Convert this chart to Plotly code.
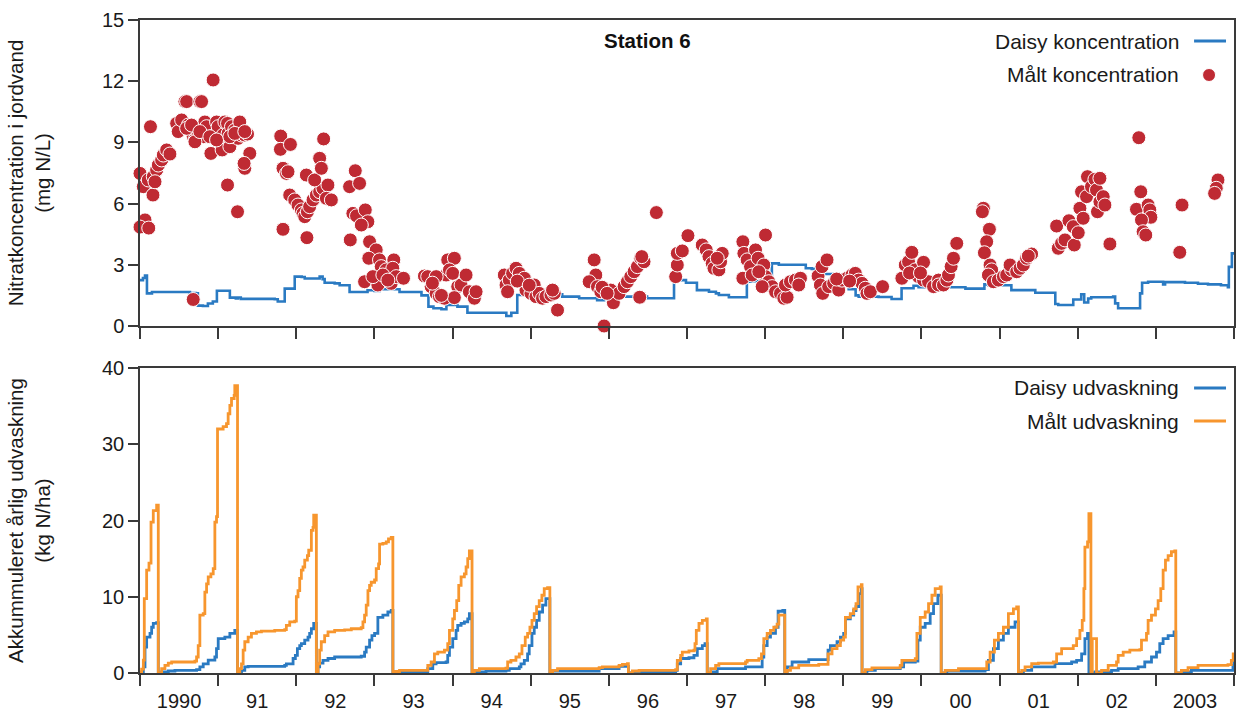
import plotly.graph_objects as go

BLUE = "#2a7ac2"
ORANGE = "#f7962e"
RED = "#bf2a33"
AXC = "#3a3a3a"
FONT = "Liberation Sans, Arial, Helvetica, sans-serif"

# ---------------- axis tick data ----------------
year_bounds = list(range(1990, 2005))
label_positions = [y + 0.5 for y in range(1990, 2004)]
year_labels = ["1990", "91", "92", "93", "94", "95", "96", "97", "98", "99", "00", "01", "02", "2003"]

# ---------------- Daisy concentration (step line) ----------------
daisy_conc_year = [
    1990.000, 1990.038, 1990.064, 1990.089, 1990.153, 1990.639, 1990.715, 1990.741, 1990.805, 1990.869,
    1990.932, 1990.984, 1991.150, 1991.226, 1991.252, 1991.290, 1991.724, 1991.763, 1991.852, 1991.980,
    1992.069, 1992.108, 1992.274, 1992.299, 1992.337, 1992.363, 1992.491, 1992.555, 1992.682, 1992.912,
    1993.002, 1993.066, 1993.321, 1993.602, 1993.691, 1993.755, 1993.857, 1993.921, 1994.062, 1994.190,
    1994.688, 1994.752, 1994.828, 1994.918, 1995.173, 1995.403, 1995.620, 1995.850, 1995.939, 1996.489,
    1996.834, 1996.987, 1997.127, 1997.281, 1997.370, 1997.408, 1997.536, 1997.766, 1997.817, 1998.086,
    1998.175, 1998.520, 1998.596, 1998.750, 1998.941, 1999.069, 1999.158, 1999.197, 1999.452, 1999.618,
    1999.746, 1999.899, 1999.963, 2000.563, 2000.806, 2000.857, 2001.151, 2001.457, 2001.713, 2001.751,
    2001.943, 2002.045, 2002.083, 2002.134, 2002.173, 2002.454, 2002.479, 2002.517, 2002.798, 2002.824,
    2002.901, 2003.093, 2003.118, 2003.373, 2003.539, 2003.667, 2003.833, 2003.922, 2003.934, 2003.973,
    2004.000,
]
daisy_conc = [
    2.25, 2.35, 2.47, 1.60, 1.67, 1.62, 1.60, 1.00, 0.98, 1.10,
    1.20, 1.73, 1.39, 1.35, 1.40, 1.33, 1.31, 1.20, 1.83, 2.42,
    2.40, 2.33, 2.33, 2.42, 2.30, 2.12, 2.09, 2.00, 1.67, 1.75,
    1.72, 1.80, 1.67, 1.50, 0.95, 0.87, 0.82, 1.03, 0.95, 0.65,
    0.49, 0.65, 1.52, 1.68, 1.55, 1.44, 1.36, 1.27, 1.44, 1.36,
    2.25, 2.12, 1.76, 1.68, 1.60, 1.52, 1.41, 2.17, 2.20, 3.07,
    3.00, 2.83, 2.80, 2.55, 2.45, 1.80, 1.50, 1.44, 1.42, 1.32,
    1.85, 1.97, 1.90, 1.83, 2.04, 2.00, 1.76, 1.63, 1.08, 1.03,
    1.30, 1.56, 1.15, 1.35, 1.41, 1.44, 1.11, 0.87, 1.60, 2.12,
    2.17, 2.04, 2.15, 2.12, 2.07, 2.04, 2.00, 1.90, 2.90, 3.56,
    3.56,
]

# ---------------- Measured concentration (points) ----------------
malt_conc_year = [
    # 1990 spring
    1990.000, 1989.994, 1990.042, 1990.134, 1990.064, 1990.000, 1990.112, 1990.166, 1990.106, 1990.170,
    1990.213, 1990.234, 1990.277, 1990.298, 1990.341, 1990.383, 1990.192,
    # 1990-91 winter
    1990.469, 1990.489, 1990.533, 1990.575, 1990.597, 1990.617, 1990.639, 1990.681, 1990.703, 1990.745,
    1990.766, 1990.788, 1990.809, 1990.830, 1990.852, 1990.916, 1990.907, 1990.936, 1990.980, 1991.000,
    1991.022, 1991.051, 1991.064, 1991.086, 1991.120, 1991.128, 1991.150, 1991.171, 1991.192, 1991.213,
    1991.256, 1991.277, 1991.299, 1991.341, 1991.376, 1991.405, 1991.341, 1991.332, 1991.120, 1991.248,
    1990.681, 1990.597, 1990.660, 1990.703, 1990.766, 1990.894, 1990.980, 1991.150, 1991.213, 1991.341,
    # 1991-92
    1991.801, 1991.797, 1991.925, 1991.830, 1991.874, 1991.894, 1991.916, 1991.980, 1992.022, 1992.065,
    1992.086, 1992.108, 1992.142, 1992.171, 1992.214, 1992.257, 1992.299, 1992.341, 1992.405, 1992.385,
    1992.449, 1992.129, 1992.235, 1992.299, 1992.321, 1992.350, 1991.830, 1992.136,
    # 1992-93
    1992.682, 1992.755, 1992.810, 1992.691, 1992.724, 1992.771, 1992.883, 1992.916, 1992.832, 1992.938,
    1993.023, 1992.928, 1993.065, 1993.087, 1992.874, 1993.044, 1993.215, 1993.151, 1993.248, 1993.235,
    1993.279, 1993.372, 1992.980, 1993.108, 1993.172,
    # 1993-94
    1993.640, 1993.682, 1993.726, 1993.790, 1993.832, 1993.896, 1993.938, 1994.023, 1993.917, 1993.960,
    1994.002, 1994.066, 1994.109, 1994.173, 1994.215, 1994.279, 1994.301, 1994.023, 1993.790, 1993.742,
    1993.857,
    # 1994-95
    1994.662, 1994.684, 1994.726, 1994.768, 1994.812, 1994.854, 1994.918, 1994.704, 1994.939, 1995.003,
    1995.045, 1995.067, 1995.109, 1995.151, 1995.195, 1995.259, 1995.301, 1995.343, 1995.279, 1994.828,
    1994.981,
    # 1995-96
    1995.812, 1995.833, 1995.748, 1995.854, 1995.897, 1995.939, 1996.025, 1996.058, 1996.131, 1996.195,
    1996.237, 1996.280, 1996.323, 1996.365, 1996.408, 1996.450, 1996.395, 1996.608, 1996.421, 1995.914,
    1995.978,
    # 1996-97
    1996.855, 1996.876, 1996.876, 1996.940, 1997.012,
    1997.195, 1997.246, 1997.281, 1997.323, 1997.345, 1997.408, 1997.430, 1997.451, 1997.387,
    # 1997-98
    1997.715, 1997.728, 1997.770, 1997.715, 1997.813, 1997.834, 1997.877, 1997.910, 1998.005, 1997.983,
    1998.005, 1998.047, 1998.089, 1998.133, 1998.196, 1998.239, 1998.281, 1998.260, 1998.324, 1998.388,
    1998.452, 1998.430, 1997.919, 1997.962,
    # 1998-99
    1998.677, 1998.728, 1998.792, 1998.707, 1998.737, 1998.813, 1998.877, 1998.941, 1998.983, 1999.047,
    1999.111, 1999.154, 1999.197, 1999.239, 1999.282, 1999.303, 1999.346, 1999.503, 1998.915, 1999.081,
    # 1999-2000
    1999.750, 1999.793, 1999.835, 1999.877, 1999.920, 1999.963, 2000.027, 2000.027, 2000.091, 2000.155,
    2000.219, 2000.219, 2000.282, 2000.325, 2000.346, 2000.380, 2000.410, 2000.452, 1999.848, 1999.988,
    # 2000-01
    2000.793, 2000.780, 2000.870, 2000.835, 2000.806, 2000.878, 2000.899, 2000.857, 2000.921, 2000.985,
    2001.049, 2001.091, 2001.155, 2001.134, 2001.219, 2001.262, 2001.304, 2001.346, 2001.410, 2001.368,
    # 2001-02
    2001.730, 2001.751, 2001.793, 2001.837, 2001.888, 2001.943, 2001.956, 2002.007, 2002.028, 2002.070,
    2002.049, 2002.113, 2002.125, 2002.176, 2002.220, 2002.240, 2002.253, 2002.284, 2002.326, 2002.348,
    2002.412, 2002.284,
    # 2002-03
    2002.782, 2002.807, 2002.752, 2002.901, 2002.923, 2002.936, 2002.816, 2002.837, 2002.871, 2003.335,
    2003.306, 2003.795, 2003.773, 2003.752,
]
malt_conc = [
    7.48, 6.34, 6.83, 9.77, 5.20, 4.85, 4.80, 6.42, 7.16, 7.32,
    7.65, 7.89, 8.14, 8.38, 8.63, 8.43, 7.07,
    9.93, 9.53, 10.10, 11.00, 11.00, 9.85, 9.60, 9.28, 9.12, 9.53,
    11.00, 11.00, 9.28, 10.00, 9.77, 9.28, 8.46, 12.06, 10.00, 9.77,
    9.12, 8.63, 9.36, 10.00, 9.93, 9.44, 8.79, 9.77, 9.28, 9.60,
    9.20, 10.00, 9.36, 9.36, 9.41, 8.46, 7.73, 7.97, 6.91, 5.60,
    1.30, 9.69, 9.85, 9.03, 9.53, 9.28, 9.12, 9.28, 9.44, 9.53,
    9.31, 8.66, 8.90, 7.73, 7.48, 7.56, 6.42, 6.18, 5.93, 5.69,
    5.52, 5.36, 5.60, 5.85, 6.18, 6.42, 6.58, 6.75, 6.91, 6.26,
    6.18, 7.40, 7.16, 8.22, 7.73, 9.17, 4.74, 4.33,
    6.83, 7.61, 6.99, 4.22, 5.52, 5.40, 5.69, 5.11, 4.95, 4.13,
    3.73, 3.32, 3.24, 2.91, 2.17, 2.01, 2.09, 2.75, 3.24, 2.83,
    2.42, 2.34, 2.42, 2.50, 2.25,
    2.45, 2.42, 1.93, 1.60, 1.44, 1.36, 3.24, 3.32, 2.50, 2.75,
    2.58, 1.93, 2.01, 2.50, 1.68, 1.36, 1.68, 1.39, 2.42, 2.10,
    1.50,
    2.50, 2.01, 2.25, 2.58, 2.83, 2.58, 2.34, 1.68, 1.76, 1.60,
    2.01, 1.44, 1.60, 1.36, 1.44, 1.52, 1.60, 0.78, 1.76, 2.20,
    2.00,
    3.24, 2.50, 2.17, 1.93, 1.68, 0.00, 1.76, 1.14, 1.60, 1.93,
    2.17, 2.42, 2.66, 2.91, 3.32, 3.15, 1.41, 5.56, 3.40, 1.90,
    1.60,
    2.42, 2.99, 3.56, 3.68, 4.43,
    3.97, 3.73, 3.40, 3.07, 2.83, 2.75, 3.15, 3.56, 3.32,
    4.13, 3.56, 3.24, 2.34, 2.91, 2.50, 3.73, 3.32, 4.46, 2.99,
    2.42, 2.17, 1.93, 1.68, 1.60, 1.36, 1.41, 2.01, 2.17, 2.25,
    2.34, 2.01, 2.66, 1.93,
    2.45, 2.91, 3.24, 2.01, 1.60, 1.93, 2.09, 1.76, 2.25, 2.34,
    2.50, 2.58, 2.25, 2.09, 1.85, 1.60, 1.68, 1.93, 2.30, 2.20,
    2.34, 2.99, 3.15, 3.61, 2.75, 2.42, 3.12, 2.25, 2.17, 1.93,
    2.25, 2.01, 2.01, 2.25, 2.50, 2.91, 3.32, 4.05, 2.60, 2.60,
    5.77, 5.60, 4.74, 4.13, 3.59, 2.99, 2.75, 2.50, 2.17, 2.25,
    2.42, 2.50, 2.75, 2.99, 2.66, 2.83, 2.99, 3.32, 3.53, 3.43,
    4.90, 3.81, 4.05, 4.22, 5.16, 4.87, 3.97, 4.57, 5.77, 5.28,
    6.58, 6.34, 7.32, 6.83, 7.19, 6.67, 5.60, 6.09, 6.34, 5.93,
    4.02, 7.24,
    9.23, 6.58, 5.72, 5.93, 5.69, 5.33, 5.20, 4.62, 4.46, 5.93,
    3.61, 7.16, 6.75, 6.50,
]

# ---------------- Accumulated annual leaching (step lines) ----------------
daisy_udv_year = [
    1990.000, 1990.043, 1990.064, 1990.085, 1990.128, 1990.149, 1990.170, 1990.213, 1990.234, 1990.277,
    1990.362, 1990.447, 1990.724, 1990.766, 1990.809, 1990.873, 1990.958, 1990.979, 1991.001, 1991.086,
    1991.150, 1991.213, 1991.248, 1991.299, 1991.341, 1991.384, 1991.852, 1991.873, 1991.959, 1991.988,
    1992.014, 1992.044, 1992.065, 1992.108, 1992.150, 1992.171, 1992.193, 1992.223, 1992.257, 1992.278,
    1992.299, 1992.342, 1992.406, 1992.491, 1992.831, 1992.874, 1992.895, 1992.938, 1992.968, 1993.002,
    1993.044, 1993.108, 1993.172, 1993.215, 1993.236, 1993.321, 1993.683, 1993.747, 1993.789, 1993.917,
    1993.938, 1993.960, 1994.002, 1994.045, 1994.066, 1994.109, 1994.151, 1994.194, 1994.215, 1994.249,
    1994.300, 1994.428, 1994.683, 1994.726, 1994.854, 1994.875, 1994.918, 1994.960, 1994.981, 1995.016,
    1995.045, 1995.075, 1995.109, 1995.152, 1995.194, 1995.245, 1995.280, 1995.876, 1996.131, 1996.250,
    1996.301, 1996.855, 1996.876, 1996.919, 1997.025, 1997.089, 1997.132, 1997.196, 1997.230, 1997.259,
    1997.323, 1997.387, 1997.749, 1997.962, 1997.983, 1998.026, 1998.068, 1998.132, 1998.166, 1998.226,
    1998.251, 1998.281, 1998.345, 1998.558, 1998.805, 1998.835, 1998.920, 1998.963, 1999.005, 1999.027,
    1999.090, 1999.133, 1999.163, 1999.197, 1999.231, 1999.240, 1999.303, 1999.410, 1999.729, 1999.772,
    1999.921, 1999.955, 1999.985, 2000.048, 2000.112, 2000.155, 2000.210, 2000.253, 2000.325, 2000.815,
    2000.857, 2000.921, 2000.985, 2001.049, 2001.113, 2001.198, 2001.241, 2001.305, 2001.411, 2001.709,
    2001.922, 2001.986, 2002.050, 2002.092, 2002.126, 2002.143, 2002.220, 2002.433, 2002.518, 2002.773,
    2002.858, 2002.944, 2003.008, 2003.050, 2003.093, 2003.157, 2003.233, 2003.255, 2003.327, 2003.455,
    2003.966, 2003.987, 2004.000,
]
daisy_udv = [
    0.10, 0.80, 3.40, 4.70, 5.20, 6.00, 6.50, 6.60, 0.00, 0.13,
    0.26, 0.35, 0.44, 0.80, 1.20, 1.70, 2.10, 3.20, 4.50, 4.70,
    5.20, 5.60, 0.00, 0.35, 0.80, 0.87, 1.00, 1.20, 1.90, 2.30,
    3.20, 3.60, 3.85, 4.30, 4.70, 5.20, 5.80, 6.50, 0.00, 0.80,
    1.30, 1.66, 1.90, 2.10, 2.20, 2.75, 3.40, 4.30, 4.90, 5.20,
    7.30, 7.60, 8.00, 8.20, 0.00, 0.13, 0.57, 1.20, 1.35, 1.44,
    2.30, 3.40, 4.50, 5.60, 6.25, 6.50, 6.70, 7.10, 7.80, 0.00,
    0.13, 0.26, 0.35, 0.57, 0.80, 1.20, 1.66, 2.50, 3.60, 5.20,
    6.00, 6.90, 8.00, 8.90, 9.75, 0.00, 0.26, 0.57, 0.87, 0.00,
    0.13, 0.35, 1.20, 1.90, 2.00, 2.30, 3.20, 3.60, 3.85, 0.00,
    0.13, 0.57, 0.80, 2.10, 3.60, 4.70, 5.20, 6.00, 8.10, 8.20,
    0.00, 0.80, 1.44, 1.75, 3.00, 3.60, 4.10, 4.70, 5.20, 7.10,
    7.60, 8.20, 8.70, 10.40, 11.06, 0.00, 0.35, 0.57, 0.80, 1.44,
    1.57, 4.30, 6.00, 6.50, 7.80, 9.10, 10.20, 0.00, 0.26, 0.44,
    1.66, 3.20, 4.30, 5.20, 6.00, 6.70, 0.00, 0.35, 0.80, 1.22,
    1.44, 1.66, 2.50, 4.50, 5.20, 0.00, 0.13, 0.35, 0.57, 0.80,
    1.44, 2.10, 2.75, 3.85, 4.50, 4.90, 5.40, 0.00, 0.13, 0.35,
    0.35, 1.00, 1.66,
]

malt_udv_year = [
    1990.000, 1990.021, 1990.043, 1990.055, 1990.085, 1990.115, 1990.141, 1990.170, 1990.213, 1990.234,
    1990.277, 1990.319, 1990.362, 1990.405, 1990.703, 1990.724, 1990.745, 1990.766, 1990.809, 1990.830,
    1990.852, 1990.873, 1990.907, 1990.937, 1990.958, 1990.979, 1990.992, 1991.064, 1991.107, 1991.128,
    1991.150, 1991.171, 1991.205, 1991.213, 1991.248, 1991.277, 1991.299, 1991.320, 1991.341, 1991.384,
    1991.426, 1991.490, 1991.554, 1991.724, 1991.852, 1991.873, 1991.916, 1991.980, 1992.001, 1992.022,
    1992.044, 1992.065, 1992.086, 1992.108, 1992.142, 1992.159, 1992.193, 1992.214, 1992.223, 1992.257,
    1992.278, 1992.299, 1992.320, 1992.363, 1992.406, 1992.491, 1992.619, 1992.704, 1992.831, 1992.853,
    1992.874, 1992.895, 1992.917, 1992.938, 1992.959, 1993.002, 1993.023, 1993.053, 1993.066, 1993.108,
    1993.151, 1993.180, 1993.215, 1993.236, 1993.260, 1993.321, 1993.683, 1993.726, 1993.768, 1993.811,
    1993.896, 1993.938, 1993.960, 1994.002, 1994.024, 1994.053, 1994.079, 1994.109, 1994.151, 1994.173,
    1994.194, 1994.215, 1994.249, 1994.279, 1994.343, 1994.683, 1994.705, 1994.747, 1994.811, 1994.854,
    1994.888, 1994.930, 1994.960, 1994.990, 1995.016, 1995.045, 1995.075, 1995.109, 1995.143, 1995.173,
    1995.216, 1995.245, 1995.280, 1995.343, 1995.876, 1995.918, 1996.131, 1996.174, 1996.238, 1996.250,
    1996.301, 1996.387, 1996.855, 1996.876, 1996.919, 1996.940, 1997.025, 1997.089, 1997.102, 1997.119,
    1997.153, 1997.196, 1997.247, 1997.259, 1997.302, 1997.366, 1997.408, 1997.749, 1997.770, 1997.919,
    1997.953, 1997.983, 1998.026, 1998.068, 1998.111, 1998.153, 1998.175, 1998.251, 1998.281, 1998.324,
    1998.430, 1998.686, 1998.805, 1998.856, 1998.920, 1998.963, 1999.005, 1999.027, 1999.090, 1999.133,
    1999.163, 1999.188, 1999.231, 1999.240, 1999.282, 1999.367, 1999.729, 1999.750, 1999.921, 1999.942,
    1999.985, 2000.048, 2000.091, 2000.134, 2000.176, 2000.240, 2000.253, 2000.304, 2000.474, 2000.836,
    2000.879, 2000.934, 2000.985, 2001.049, 2001.113, 2001.177, 2001.219, 2001.241, 2001.283, 2001.326,
    2001.411, 2001.496, 2001.688, 2001.730, 2001.794, 2001.943, 2001.986, 2002.028, 2002.058, 2002.079,
    2002.092, 2002.126, 2002.143, 2002.169, 2002.186, 2002.241, 2002.305, 2002.390, 2002.497, 2002.518,
    2002.582, 2002.667, 2002.795, 2002.816, 2002.880, 2002.901, 2002.944, 2002.995, 2003.029, 2003.063,
    2003.093, 2003.123, 2003.157, 2003.199, 2003.242, 2003.255, 2003.327, 2003.412, 2003.540, 2003.923,
    2003.966, 2003.990, 2004.000,
]
malt_udv = [
    0.10, 0.50, 1.70, 9.75, 13.50, 14.40, 19.80, 21.30, 22.00, 0.00,
    0.57, 1.00, 1.30, 1.44, 1.57, 2.10, 3.60, 7.60, 7.80, 10.60,
    11.70, 12.60, 13.00, 13.70, 19.80, 20.50, 32.00, 32.30, 32.70, 34.00,
    35.10, 36.00, 36.40, 37.70, 0.00, 0.57, 1.20, 3.00, 4.10, 4.70,
    5.20, 5.40, 5.50, 5.60, 5.70, 6.25, 6.70, 6.80, 10.00, 10.80,
    12.40, 13.50, 13.90, 14.80, 15.40, 16.10, 18.70, 19.10, 20.70, 0.00,
    1.20, 3.00, 4.10, 4.90, 5.40, 5.60, 5.65, 5.80, 5.95, 6.70,
    7.60, 8.90, 10.80, 11.50, 11.90, 12.20, 13.70, 14.30, 16.90, 17.00,
    17.20, 17.60, 17.80, 0.00, 0.20, 0.35, 1.00, 1.44, 2.50, 2.75,
    3.00, 3.85, 5.60, 7.10, 8.20, 9.50, 11.50, 12.60, 13.00, 13.90,
    15.00, 16.00, 0.00, 0.35, 0.57, 0.65, 1.44, 1.66, 2.10, 2.50,
    3.60, 4.70, 5.20, 6.00, 6.90, 7.80, 8.70, 9.50, 10.20, 11.06,
    11.20, 0.00, 0.35, 0.57, 0.70, 0.80, 1.00, 1.14, 1.22, 0.00,
    0.26, 0.35, 0.44, 1.66, 2.30, 2.75, 2.90, 3.00, 3.85, 5.60,
    6.50, 6.90, 7.10, 0.00, 0.57, 1.00, 1.22, 1.44, 1.66, 1.88,
    2.50, 4.50, 5.20, 5.60, 6.00, 6.40, 7.60, 0.00, 0.35, 0.66,
    1.00, 1.14, 2.50, 3.20, 3.60, 4.30, 4.70, 7.30, 7.80, 8.40,
    9.10, 11.30, 11.60, 0.00, 0.44, 0.66, 1.00, 1.66, 1.88, 5.20,
    7.30, 8.00, 9.10, 10.20, 11.06, 11.30, 0.00, 0.35, 0.57, 1.44,
    2.75, 4.30, 5.20, 6.00, 7.80, 8.40, 8.66, 0.00, 0.35, 0.80,
    1.22, 1.30, 1.44, 2.50, 3.20, 3.60, 4.50, 5.60, 6.90, 11.06,
    16.50, 17.20, 20.90, 0.00, 4.50, 0.00, 0.35, 1.00, 1.44, 2.30,
    2.75, 3.00, 3.06, 4.30, 5.20, 6.90, 7.60, 8.40, 9.50, 11.06,
    13.50, 14.80, 15.40, 15.90, 16.00, 0.00, 0.35, 0.70, 1.00, 1.10,
    1.66, 2.50, 2.50,
]

# ---------------- figure ----------------
fig = go.Figure()
fig.add_trace(go.Scatter(x=daisy_conc_year, y=daisy_conc, mode="lines",
                         line=dict(color=BLUE, width=2.6, shape="hv"),
                         xaxis="x", yaxis="y", showlegend=False, name="Daisy koncentration"))
fig.add_trace(go.Scatter(x=malt_conc_year, y=malt_conc, mode="markers",
                         marker=dict(color=RED, size=14, line=dict(color="white", width=1)),
                         cliponaxis=False, xaxis="x", yaxis="y", showlegend=False,
                         name="Målt koncentration"))
fig.add_trace(go.Scatter(x=daisy_udv_year, y=daisy_udv, mode="lines",
                         line=dict(color=BLUE, width=2.8, shape="hv"),
                         xaxis="x2", yaxis="y2", showlegend=False, name="Daisy udvaskning"))
fig.add_trace(go.Scatter(x=malt_udv_year, y=malt_udv, mode="lines",
                         line=dict(color=ORANGE, width=2.8, shape="hv"),
                         xaxis="x2", yaxis="y2", showlegend=False, name="Målt udvaskning"))

W, H = 1239, 720
ML, MR, MT, MB = 140, 3, 20, 47
PW, PH = W - ML - MR, H - MT - MB


def px_x(px):
    return (px - ML) / PW


def px_y(py):
    return (H - MB - py) / PH


xcommon = dict(range=[1990, 2004], showgrid=False, zeroline=False, showline=True, mirror=True,
               linecolor=AXC, linewidth=1.5, ticks="", tickmode="array",
               tickvals=label_positions, ticktext=year_labels,
               tickfont=dict(size=20, color="#1a1a1a", family=FONT),
               minor=dict(tickmode="array", tickvals=year_bounds, ticks="outside",
                          ticklen=11, tickwidth=1.5, tickcolor=AXC, showgrid=False))
ycommon = dict(showgrid=False, zeroline=False, showline=True, mirror=True,
               linecolor=AXC, linewidth=1.5, ticks="outside", ticklen=10, tickwidth=1.5,
               tickcolor=AXC, tickfont=dict(size=20, color="#1a1a1a", family=FONT))

top_lo = px_y(326)
bot_hi = px_y(368)

fig.update_layout(
    width=W, height=H,
    margin=dict(l=ML, r=MR, t=MT, b=MB),
    paper_bgcolor="white", plot_bgcolor="white",
    font=dict(family=FONT, color="#1a1a1a", size=20),
    showlegend=False,
    xaxis=dict(domain=[0, 1], anchor="y", showticklabels=False, **xcommon),
    yaxis=dict(domain=[top_lo, 1], anchor="x", range=[0, 15], tickmode="array",
               tickvals=[0, 3, 6, 9, 12, 15],
               title=dict(text="Nitratkoncentration i jordvand<br>(mg N/L)",
                          font=dict(size=20.5, family=FONT), standoff=46),
               **ycommon),
    xaxis2=dict(domain=[0, 1], anchor="y2", ticklabelstandoff=9, **xcommon),
    yaxis2=dict(domain=[0, bot_hi], anchor="x2", range=[0, 40], tickmode="array",
                tickvals=[0, 10, 20, 30, 40],
                title=dict(text="Akkummuleret årlig udvaskning<br>(kg N/ha)",
                           font=dict(size=20.5, family=FONT), standoff=46),
                **ycommon),
)

# title
fig.add_annotation(text="<b>Station 6</b>", x=px_x(648), y=px_y(40), xref="paper", yref="paper",
                   showarrow=False, font=dict(size=20.5, family=FONT, color="#111"),
                   xanchor="center", yanchor="middle")

# legends (text on the left, symbol on the right)
legend_items = [
    ("Daisy koncentration", 41, "line", BLUE),
    ("Målt koncentration", 75, "marker", RED),
    ("Daisy udvaskning", 388, "line", BLUE),
    ("Målt udvaskning", 421, "line", ORANGE),
]
for text, yy, kind, col in legend_items:
    fig.add_annotation(text=text, x=px_x(1183), y=px_y(yy), xref="paper", yref="paper",
                       showarrow=False, xanchor="right", yanchor="middle",
                       font=dict(size=21, family=FONT, color="#1a1a1a"))
    if kind == "line":
        fig.add_shape(type="line", xref="paper", yref="paper",
                      x0=px_x(1196), x1=px_x(1228), y0=px_y(yy), y1=px_y(yy),
                      line=dict(color=col, width=2.8))
    else:
        fig.add_shape(type="circle", xref="paper", yref="paper",
                      x0=px_x(1204.5), x1=px_x(1217.5), y0=px_y(yy + 6.5), y1=px_y(yy - 6.5),
                      fillcolor=col, line=dict(color="white", width=1))

fig.write_html("out.html")
